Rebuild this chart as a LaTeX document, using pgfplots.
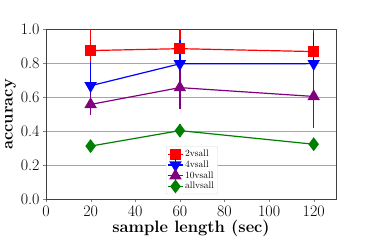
\documentclass[border=0pt]{standalone}
\usepackage{fontspec}
\usepackage{pgfplots}
\pgfplotsset{compat=1.18}
\definecolor{mpurple}{rgb}{0.5,0,0.5}
\definecolor{mgreen}{rgb}{0,0.5,0}
\begin{document}
\begin{tikzpicture}
\begin{axis}[
  scale only axis, width=290pt, height=170pt,
  xmin=0, xmax=130, ymin=0, ymax=1,
  xtick={0,20,40,60,80,100,120},
  ytick={0,0.2,0.4,0.6,0.8,1.0},
  yticklabel style={/pgf/number format/fixed,/pgf/number format/fixed zerofill,/pgf/number format/precision=1},
  /pgf/number format/assume math mode=true,
  ticklabel style={font=\fontsize{16}{18}\selectfont},
  tick align=outside, tick pos=left, major tick length=3pt,
  axis line style={draw=black!75, line width=0.8pt},
  ymajorgrids, grid style={gray!70, line width=0.6pt},
  xlabel={\textbf{sample length (sec)}},
  ylabel={\textbf{accuracy}},
  label style={font=\fontsize{16.5}{18}\selectfont},
  xlabel style={yshift=4pt},
  ylabel style={yshift=-2pt},
  legend style={at={(0.503,0.03)}, anchor=south, draw=black!15, rounded corners=1pt,
    font=\fontsize{9.5}{11}\selectfont, row sep=-1.5pt, inner sep=1.5pt},
  legend cell align=left,
  legend image code/.code={
    \draw[#1,mark=none] (0cm,0cm)--(0.5cm,0cm);
    \draw[#1,mark=none,line width=0.8pt] (0.25cm,-0.2cm)--(0.25cm,0.2cm);
    \draw[#1] plot coordinates {(0.25cm,0cm)};
  },
  every axis plot/.append style={line width=1.2pt},
  unbounded coords=jump,
]
\coordinate (bl) at (rel axis cs:0,0);
\coordinate (tr) at (rel axis cs:1,1);
% error bars (mean +- err), drawn beneath the lines
\addplot[draw=red, line width=1.6pt, mark=none, forget plot] coordinates {
  (20,0.725) (20,1.025) (20,nan)
  (60,0.756) (60,1.016) (60,nan)
  (120,0.729) (120,1.009)
};
\addplot[draw=blue, line width=1.6pt, mark=none, forget plot] coordinates {
  (20,0.528) (20,0.808) (20,nan)
  (60,0.657) (60,0.937) (60,nan)
  (120,0.618) (120,0.978)
};
\addplot[draw=mpurple, line width=1.6pt, mark=none, forget plot] coordinates {
  (20,0.495) (20,0.621) (20,nan)
  (60,0.531) (60,0.783) (60,nan)
  (120,0.422) (120,0.788)
};
\addplot[draw=mgreen, line width=1.6pt, mark=none, forget plot] coordinates {
  (20,0.283) (20,0.343) (20,nan)
  (60,0.364) (60,0.444) (60,nan)
  (120,0.294) (120,0.354)
};
% means
\addplot[red, mark=square*, mark size=5pt, mark options={solid}] coordinates {
  (20,0.875) (60,0.886) (120,0.869)
};
\addlegendentry{2vsall}
\addplot[blue, mark=triangle*, mark size=6pt, mark options={rotate=180}] coordinates {
  (20,0.668) (60,0.797) (120,0.798)
};
\addlegendentry{4vsall}
\addplot[mpurple, mark=triangle*, mark size=6pt] coordinates {
  (20,0.558) (60,0.657) (120,0.605)
};
\addlegendentry{10vsall}
\addplot[mgreen, mark=diamond*, mark size=6pt] coordinates {
  (20,0.313) (60,0.404) (120,0.324)
};
\addlegendentry{allvsall}
\end{axis}
\pgfresetboundingbox
\path ([shift={(-46pt,-49.7pt)}]bl) rectangle ([shift={(38pt,29.3pt)}]tr);
\end{tikzpicture}
\end{document}
